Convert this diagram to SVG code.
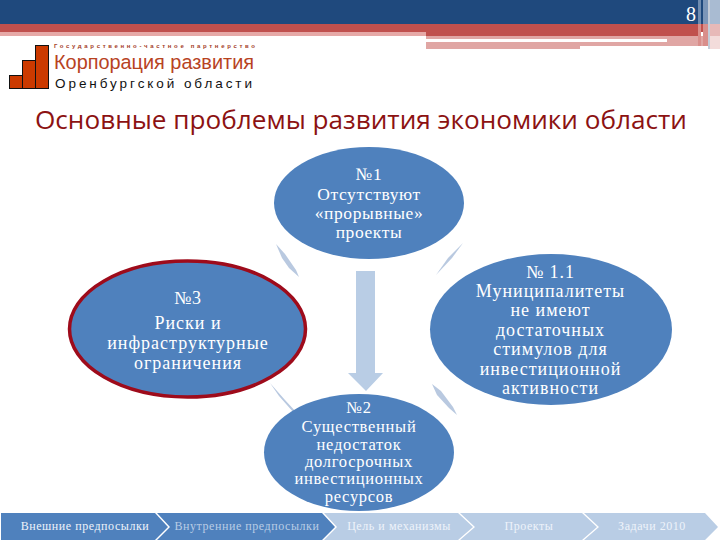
<svg xmlns="http://www.w3.org/2000/svg" width="720" height="540" viewBox="0 0 720 540">
<style>
.n{fill:#4f81bd}
.t{font-family:"Liberation Serif","DejaVu Serif",serif;fill:#fff;text-anchor:middle}
.t1{font-size:17.500px;letter-spacing:.6px}
.t2{font-size:16.500px;letter-spacing:.7px}
.t3{font-size:18px;letter-spacing:1px}
.b{font-family:"Liberation Serif","DejaVu Serif",serif;font-size:12px;text-anchor:middle;letter-spacing:.55px}
.s{fill:#b9c9e0}
</style>
<rect width="720" height="540" fill="#fff"/>
<g id="header">
<rect x="0" y="0" width="720" height="24" fill="#1f497d"/>
<rect x="0" y="24" width="720" height="8" fill="#c0504d"/>
<rect x="0" y="32" width="426" height="4" fill="#e6a9a7"/>
<rect x="426" y="32" width="272" height="4" fill="#c0504d"/>
<rect x="426" y="36" width="281" height="3" fill="#e0a6a4"/>
<rect x="667" y="39" width="41" height="7" fill="#e0a6a4"/>
<rect x="426" y="42" width="154" height="7" fill="#e0a6a4"/>
<rect x="580" y="42" width="87" height="4" fill="#e0a6a4"/>
<rect x="698" y="0" width="3" height="24" fill="#6f8cb0"/>
<rect x="703" y="0" width="5" height="24" fill="#7c96b8"/>
<rect x="710" y="0" width="10" height="24" fill="#a9bbd2"/>
<rect x="698" y="24" width="3" height="22" fill="#d98e8b"/>
<rect x="703" y="24" width="5" height="22" fill="#d98e8b"/>
<rect x="708" y="0" width="2" height="49" fill="#c4ccd8"/>
<rect x="710" y="24" width="10" height="12" fill="#e7b9b8"/>
<rect x="710" y="36" width="10" height="13" fill="#f3dcdb"/>
<text x="691" y="21" font-family="Liberation Serif,serif" font-size="20" fill="#fff" text-anchor="middle">8</text>
</g>
<g id="logo">
<rect x="9.500" y="75.500" width="13" height="13" fill="#cc3a00" stroke="#111" stroke-width="1"/>
<rect x="22.500" y="60.500" width="13" height="28" fill="#cc3a00" stroke="#111" stroke-width="1"/>
<rect x="35.500" y="45.500" width="13" height="43" fill="#cc3a00" stroke="#111" stroke-width="1"/>
<text x="54" y="48" font-family="Liberation Sans,sans-serif" font-size="6" font-weight="bold" fill="#a5402a" textLength="201" lengthAdjust="spacing">Государственно-частное партнерство</text>
<text x="54" y="69" font-family="Liberation Sans,sans-serif" font-size="20.500" fill="#b8431f" textLength="200" lengthAdjust="spacingAndGlyphs">Корпорация развития</text>
<text x="55" y="88" font-family="Liberation Sans,sans-serif" font-size="13.500" fill="#111" textLength="197" lengthAdjust="spacing">Оренбургской области</text>
</g>
<text id="title" x="35" y="129" font-family="Open Sans,Noto Sans,sans-serif" font-size="26" fill="#8c1212" textLength="652" lengthAdjust="spacingAndGlyphs">Основные проблемы развития экономики области</text>
<g id="connectors">
<path class="s" d="M276 244L285 254L296 270L299 277L289 268L282 258Z"/>
<path class="s" d="M463 243L452 258L436 275L448 258Z"/>
<path class="s" d="M270 383L285 400L297 413L294 413L279 396Z"/>
<path class="s" d="M432 384L441 391L453 407L457 415L449 408L437 395Z"/>
<path fill="#b9cde5" d="M356 271H375V373H383L366 391L348 373H356Z"/>
</g>
<g id="n1"><ellipse class="n" cx="369" cy="203" rx="95" ry="56"/>
<text class="t t1" x="369" y="180">№1</text><text class="t t1" x="369" y="200">Отсутствуют</text><text class="t t1" x="369" y="219">«прорывные»</text><text class="t t1" x="369" y="238">проекты</text></g>
<g id="n11"><ellipse class="n" cx="551" cy="329.500" rx="121" ry="75.500"/>
<text class="t t3" x="550.500" y="278">№ 1.1</text><text class="t t3" x="550.500" y="297">Муниципалитеты</text><text class="t t3" x="550.500" y="316">не имеют</text><text class="t t3" x="550.500" y="336">достаточных</text><text class="t t3" x="550.500" y="355">стимулов для</text><text class="t t3" x="550.500" y="375">инвестиционной</text><text class="t t3" x="550.500" y="394">активности</text></g>
<g id="n3"><ellipse class="n" cx="187.500" cy="329" rx="118" ry="68" stroke="#9e0b1b" stroke-width="3.500"/>
<text class="t t3" x="188" y="304">№3</text><text class="t t3" x="188" y="329">Риски и</text><text class="t t3" x="188" y="349">инфраструктурные</text><text class="t t3" x="188" y="369">ограничения</text></g>
<g id="n2"><ellipse class="n" cx="359" cy="452.500" rx="95" ry="58.500"/>
<text class="t t2" x="359" y="413">№2</text><text class="t t2" x="359" y="432">Существенный</text><text class="t t2" x="359" y="450">недостаток</text><text class="t t2" x="359" y="467">долгосрочных</text><text class="t t2" x="359" y="484">инвестиционных</text><text class="t t2" x="359" y="502">ресурсов</text></g>
<g id="nav">
<g id="nav1"><path fill="#4f81bd" d="M1 513H155L168 527L155 540H1Z"/><text class="b" x="85" y="530" fill="#eef3fa">Внешние предпосылки</text></g>
<g id="nav2"><path fill="#4f81bd" d="M157 513H322L335 527L322 540H157L170 527Z"/><text class="b" x="247" y="530" fill="#b9cde5">Внутренние предпосылки</text></g>
<g id="nav3"><path fill="#b9cde5" d="M324 513H458L473 527L458 540H324L337 527Z"/><text class="b" x="399" y="530" fill="#eef3fa">Цель и механизмы</text></g>
<g id="nav4"><path fill="#b9cde5" d="M460 513H582L597 527L582 540H460L475 527Z"/><text class="b" x="529" y="530" fill="#eef3fa">Проекты</text></g>
<g id="nav5"><path fill="#b9cde5" d="M584 513H705L718 527L705 540H584L599 527Z"/><text class="b" x="652" y="530" fill="#eef3fa">Задачи 2010</text></g>
</g>
</svg>
